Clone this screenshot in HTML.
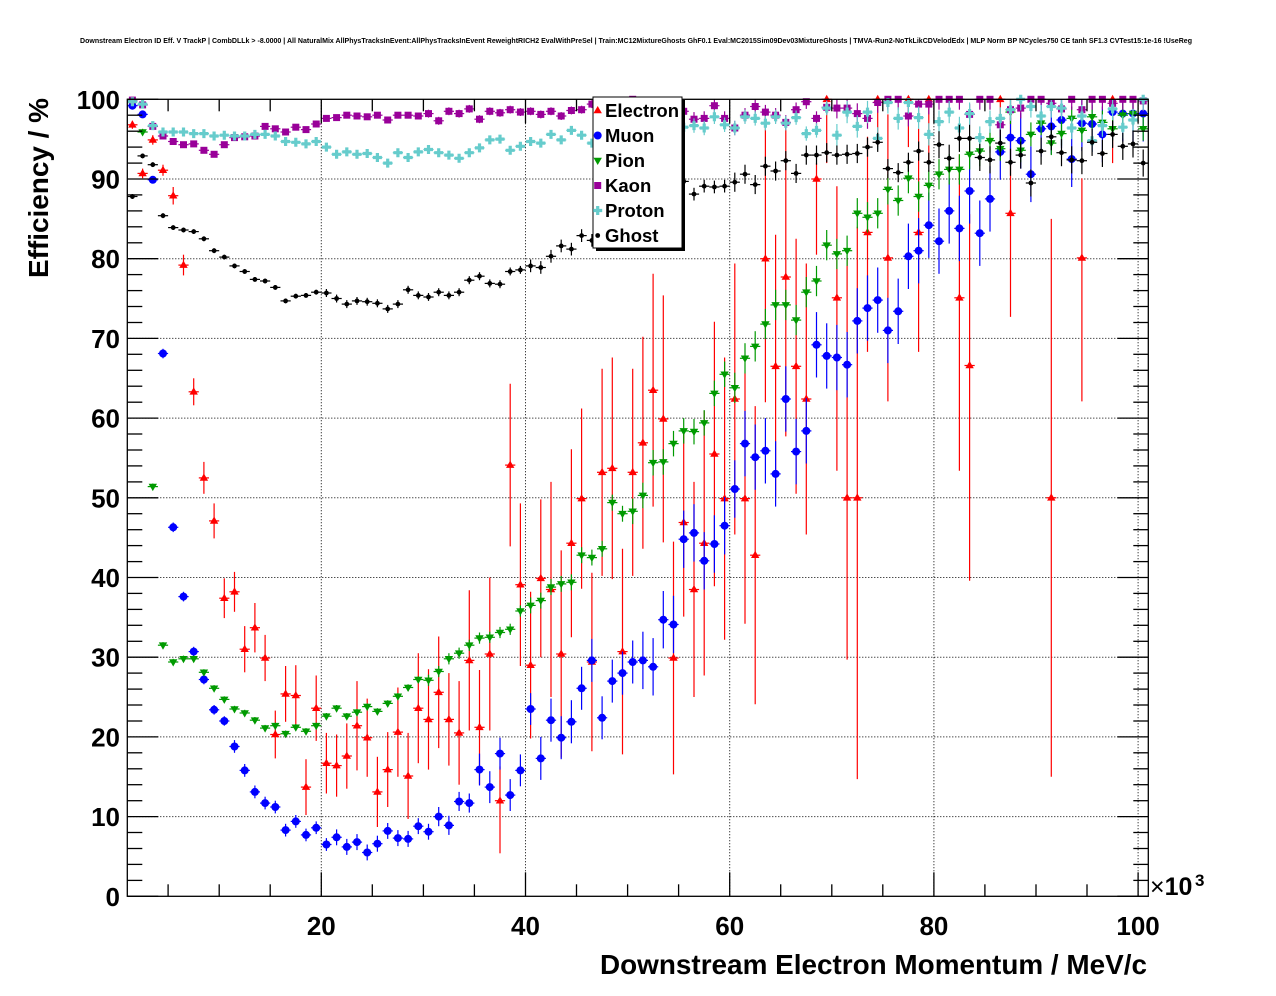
<!DOCTYPE html>
<html><head><meta charset="utf-8">
<style>
html,body{margin:0;padding:0;background:#fff;}
svg{display:block;}
text{font-family:"Liberation Sans",Arial,sans-serif;font-weight:bold;fill:#000;}
</style></head><body>
<svg id="s" width="1276" height="996" viewBox="0 0 1276 996" xmlns="http://www.w3.org/2000/svg">
<rect width="1276" height="996" fill="#fff"/>
<text x="80" y="43" font-size="7" textLength="1112" lengthAdjust="spacingAndGlyphs">Downstream Electron ID Eff. V TrackP | CombDLLk &gt; -8.0000 | All NaturalMix AllPhysTracksInEvent:AllPhysTracksInEvent ReweightRICH2 EvalWithPreSel | Train:MC12MixtureGhosts GhF0.1 Eval:MC2015Sim09Dev03MixtureGhosts | TMVA-Run2-NoTkLikCDVelodEdx | MLP Norm BP NCycles750 CE tanh SF1.3 CVTest15:1e-16 !UseReg</text>
<g id="grid" stroke="#000" stroke-width="1" stroke-dasharray="1,2" fill="none"></g>
<g id="data"></g>
<g id="axes" stroke="#000" stroke-width="1.3" fill="none"></g>
<!-- Y labels -->
<g font-size="26" text-anchor="end">
<text x="120" y="905.8">0</text>
<text x="120" y="826.1">10</text>
<text x="120" y="746.4">20</text>
<text x="120" y="666.7">30</text>
<text x="120" y="587.0">40</text>
<text x="120" y="507.3">50</text>
<text x="120" y="427.6">60</text>
<text x="120" y="347.9">70</text>
<text x="120" y="268.2">80</text>
<text x="120" y="188.5">90</text>
<text x="120" y="108.8">100</text>
</g>
<g font-size="26" text-anchor="middle">
<text x="321.3" y="935">20</text>
<text x="525.5" y="935">40</text>
<text x="729.7" y="935">60</text>
<text x="933.9" y="935">80</text>
<text x="1138.1" y="935">100</text>
</g>
<text x="1150" y="895" font-size="25"><tspan font-weight="normal">×</tspan>10</text>
<text x="1195" y="886" font-size="17">3</text>
<text x="1147" y="974" font-size="28" text-anchor="end" textLength="547" lengthAdjust="spacingAndGlyphs">Downstream Electron Momentum / MeV/c</text>
<text transform="translate(48,98) rotate(-90)" font-size="28" text-anchor="end" textLength="180" lengthAdjust="spacingAndGlyphs">Efficiency / %</text>
<!-- legend -->
<rect x="596" y="100" width="89" height="151" fill="#000"/>
<rect x="593" y="97" width="89" height="151" fill="#fff" stroke="#000" stroke-width="1"/>
<g id="leg"></g>
<g font-size="18.5">
<text x="605" y="117">Electron</text>
<text x="605" y="142">Muon</text>
<text x="605" y="167">Pion</text>
<text x="605" y="192">Kaon</text>
<text x="605" y="217">Proton</text>
<text x="605" y="242">Ghost</text>
</g>
</svg>
<script>
(function(){
const X=v=>127.3+(v-1)*10.21, Y=v=>896.3-v*7.97;
const f=n=>n.toFixed(1);
// grid
let g=[];
for(let v=20;v<=100;v+=20) g.push(`<line x1="${f(X(v))}" y1="99.3" x2="${f(X(v))}" y2="896.3"/>`);
for(let v=10;v<100;v+=10) g.push(`<line x1="127.3" y1="${f(Y(v))}" x2="1148.3" y2="${f(Y(v))}"/>`);
document.getElementById('grid').innerHTML=g.join('');
// axes
let a=[`<rect x="127.3" y="99.3" width="1021" height="797"/>`];
for(let v=0;v<=100;v+=2){const l=v%10==0?31:15,y=f(Y(v));
 a.push(`<line x1="127.3" y1="${y}" x2="${f(127.3+l)}" y2="${y}"/>`);
 a.push(`<line x1="1148.3" y1="${y}" x2="${f(1148.3-l)}" y2="${y}"/>`);}
for(let v=5;v<=100;v+=5){const l=v%20==0?24:12,x=f(X(v));
 a.push(`<line x1="${x}" y1="896.3" x2="${x}" y2="${f(896.3-l)}"/>`);
 a.push(`<line x1="${x}" y1="99.3" x2="${x}" y2="${f(99.3+l)}"/>`);}
document.getElementById('axes').innerHTML=a.join('');
function mk(t,x,y,c){
 switch(t){
  case 'tu':return `<polygon points="${f(x)},${f(y-4.5)} ${f(x-4.2)},${f(y+2.8)} ${f(x+4.2)},${f(y+2.8)}" fill="${c}"/>`;
  case 'td':return `<polygon points="${f(x-4.2)},${f(y-2.8)} ${f(x+4.2)},${f(y-2.8)} ${f(x)},${f(y+4.5)}" fill="${c}"/>`;
  case 'c':return `<circle cx="${f(x)}" cy="${f(y)}" r="4" fill="${c}"/>`;
  case 'sq':return `<rect x="${f(x-3.5)}" y="${f(y-3.5)}" width="7" height="7" fill="${c}"/>`;
  case 'cr':return `<path d="M${f(x-1.6)},${f(y-4.5)}h3.2v2.9h2.9v3.2h-2.9v2.9h-3.2v-2.9h-2.9v-3.2h2.9z" fill="${c}"/>`;
  case 'dot':return `<circle cx="${f(x)}" cy="${f(y)}" r="2.4" fill="${c}"/>`;
 }
}
let d=[];
function pt(b,v,lo,hi,t,c){
 const x=X(b+0.5),y=Y(v);
 const top=Y(Math.min(100,v+hi)),bot=Y(Math.max(0,v-lo));
 d.push(`<line x1="${f(x-5.1)}" y1="${f(y)}" x2="${f(x+5.1)}" y2="${f(y)}" stroke="${c}" stroke-width="1.2"/>`);
 if(bot-top>1) d.push(`<line x1="${f(x)}" y1="${f(top)}" x2="${f(x)}" y2="${f(bot)}" stroke="${c}" stroke-width="1.2"/>`);
 d.push(mk(t,x,y,c));
}
function arr(vals,t,c,ef){vals.forEach((v,i)=>{if(v!=null){const e=ef(i+1);pt(i+1,v,e,e,t,c);}});}
// Electron
const E=[[1,96.8,.5],[2,90.7,.6],[3,94.9,.6],[4,91.1,.7],[5,87.9,1.1],[6,79.2,1.3],[7,63.3,1.7],[8,52.5,2.0],[9,47.1,2.2],[10,37.4,2.5],[11,38.2,2.5],[12,31.0,2.9],[13,33.7,3.1],[14,29.9,2.9],[15,20.3,3.0],[16,25.4,3.5],[17,25.2,3.8],[18,13.7,3.5],[19,23.6,4.1],[20,16.7,3.8],[21,16.4,3.9],[22,17.6,4.1],[23,21.4,5.6],[24,19.9,4.9],[25,13.1,4.4],[26,15.9,4.7],[27,20.6,5.6],[28,15.1,5.4],[29,23.6,6.9],[30,22.2,6.3],[31,25.6,7.0],[32,22.2,5.8],[33,20.5,6.5],[34,29.6,8.8],[35,21.2,7.2],[36,30.4,9.6],[37,12.0,6.6,4.3],[38,54.1,10.2],[39,39.1,10.2],[40,29.0,9.2],[41,39.9,9.9],[42,38.5,13.5],[43,30.4,13],[44,44.3,11.8],[45,49.9,11.3],[46,29.4,11.2],[47,53.2,13],[48,53.7,13.9],[49,30.7,12.9],[50,53.2,13],[51,56.9,13.3],[52,63.5,14.6],[53,59.9,15.5],[54,29.9,14.6],[55,46.9,11.8],[56,38.5,13.5],[57,44.3,16.6],[58,55.5,16.6],[59,49.9,17.7],[60,62.4,17],[61,49.9,15.7],[62,42.8,18.7],[63,80.0,18,18],[64,66.5,16.5],[65,77.7,20,20],[66,66.5,16],[67,62.4,17],[68,90.0,9.5,2],[69,100,8,0],[70,75.1,21.7,14],[71,50.0,20.3,30],[72,50.0,35.3,34],[73,83.3,15,12],[74,100,6,0],[75,80.1,18,18],[77,100,6,0],[78,83.3,15,13],[79,100,8,0],[82,75.1,21.7,18],[83,66.6,27,19],[86,100,6,0],[87,85.7,13,12],[91,50.0,35,35],[94,80.1,18,10],[97,100,8,0]];
E.forEach(e=>pt(e[0],e[1],e[2],e[3]==null?e[2]:e[3],'tu','#ff0000'));
// Muon
const M=[99.2,98.1,89.9,68.1,46.3,37.6,30.7,27.2,23.4,22.0,18.8,15.8,13.1,11.7,11.2,8.3,9.4,7.7,8.6,6.5,7.4,6.2,6.8,5.5,6.6,8.2,7.3,7.2,8.8,8.1,10.0,8.9,11.9,11.7,15.9,13.7,17.9,12.7,15.8,23.5,17.3,22.1,19.9,21.9,26.1,29.6,22.4,27.0,28.0,29.4,29.6,28.8,34.7,34.1,44.8,45.6,42.1,44.2,46.5,51.1,56.8,55.1,55.9,53.0,62.4,55.8,58.4,69.2,67.8,67.6,66.7,72.2,73.8,74.8,71.0,73.4,80.3,81.0,84.2,82.2,86.0,83.8,88.5,83.2,87.5,93.4,95.2,94.8,90.6,96.3,96.6,97.4,92.5,97.0,96.9,95.6,98.4,98.2,98.2,98.2];
arr(M,'c','#0000ff',b=>b<4?.3:b<11?.6:b<21?.8:b<31?1.0:b<35?1.2:b<41?2.0:b<51?2.7:b<61?3.6:b<86?4.1:3.5);
// Pion
const P=[99.7,95.9,51.4,31.5,29.4,29.8,29.8,28.1,26.1,24.7,23.5,23.0,22.1,21.1,21.4,20.4,21.2,20.7,21.4,22.6,23.6,22.6,23.1,23.8,23.2,24.2,25.1,26.2,27.2,27.1,28.2,29.8,30.5,31.5,32.4,32.5,33.1,33.5,35.8,36.5,37.1,38.8,39.2,39.4,42.8,42.5,43.6,49.4,48.0,48.3,50.3,54.4,54.5,56.8,58.4,58.3,59.4,63.1,65.5,63.8,67.5,69.0,71.8,74.2,74.2,72.3,75.8,77.2,81.7,80.6,81.0,85.7,85.2,85.7,88.7,87.3,90.1,87.8,89.2,90.6,91.2,91.2,93.1,93.5,94.8,93.8,98.4,93.6,95.6,97.0,94.5,95.7,97.6,96.1,97.8,97.1,96.3,98.0,98.2,96.3];
arr(P,'td','#009a00',b=>b<30?.4:b<40?.7:b<50?1.0:b<60?1.6:b<85?1.9:1.5);
// Kaon
const K=[99.9,99.3,96.6,95.4,94.7,94.3,94.4,93.6,93.1,94.3,95.2,95.3,95.4,96.6,96.3,95.9,96.5,96.2,96.9,97.6,97.7,98.0,97.9,97.8,98.0,97.4,98.0,98.0,97.9,98.2,97.3,98.5,98.2,98.8,97.5,98.5,98.3,98.7,98.4,98.5,98.1,98.5,97.9,98.6,98.7,99.4,99.0,99.2,98.8,100,99.3,99.0,99.4,98.8,98.5,97.5,97.6,99.2,97.6,96.4,98.0,99.1,98.4,98.0,97.1,98.7,99.7,97.6,99.0,98.9,98.9,98.2,97.6,99.6,100,100,97.9,99.4,99.4,100,100,100,98.1,100,100,96.8,98.7,98.9,100,100,99.5,98.8,100,98.7,100,100,99.5,100,100,99.8];
arr(K,'sq','#990099',b=>b<30?.3:b<50?.5:b<70?.9:1.3);
// Proton
const Pr=[99.7,99.4,96.7,95.9,95.9,95.9,95.7,95.7,95.4,95.5,95.4,95.4,95.6,95.6,95.4,94.7,94.6,94.4,94.7,94.0,93.1,93.4,93.1,93.2,92.7,92.0,93.3,92.7,93.4,93.7,93.3,93.0,92.6,93.3,93.9,94.9,95.0,93.6,94.1,94.7,94.5,95.6,94.9,96.1,95.5,94.5,95.5,96.0,95.8,96.3,96.5,96.2,96.8,96.5,96.5,96.7,96.4,97.8,96.8,96.4,97.8,97.6,97.0,97.8,97.0,97.7,95.7,96.1,98.9,95.5,98.4,96.6,98.4,95.1,99.6,97.6,99.6,97.7,95.6,97.2,98.4,96.4,98.2,95.2,97.2,97.6,98.7,100,99.1,97.9,99.1,98.9,96.4,97.9,94.8,96.7,98.8,96.5,97.4,100];
arr(Pr,'cr','#66cccc',b=>b<30?.3:b<50?.5:b<70?.9:1.4);
// Ghost
const G=[87.8,92.9,91.8,85.4,83.9,83.6,83.4,82.5,81.0,80.2,79.1,78.4,77.4,77.2,76.4,74.7,75.3,75.4,75.8,75.7,75.0,74.3,74.7,74.6,74.4,73.7,74.3,76.1,75.4,75.2,75.8,75.4,75.8,77.3,77.8,76.9,76.8,78.4,78.6,79.1,78.9,80.3,81.6,81.2,82.9,82.3,83.5,84.0,84.5,85.0,86.0,86.8,87.5,88.5,89.7,88.1,89.1,89.0,89.1,89.6,90.6,89.3,91.6,91.0,92.3,90.7,93.0,93.0,93.3,93.0,93.1,93.2,94.0,94.6,91.3,90.8,92.1,93.5,92.1,94.3,92.6,95.1,95.1,92.7,92.4,94.5,92.1,93.0,89.5,93.5,95.3,93.3,92.4,92.3,94.6,93.2,95.6,94.1,94.4,92.0];
arr(G,'dot','#000000',b=>b<20?.3:b<40?.5:b<60?.8:b<80?1.2:1.7);
document.getElementById('data').innerHTML=d.join('');
// legend markers
const L=[['tu','#ff0000'],['c','#0000ff'],['td','#009a00'],['sq','#990099'],['cr','#66cccc'],['dot','#000000']];
document.getElementById('leg').innerHTML=L.map((m,i)=>mk(m[0],597.7,110.5+25*i,m[1])).join('');
})();
</script>
</body></html>
